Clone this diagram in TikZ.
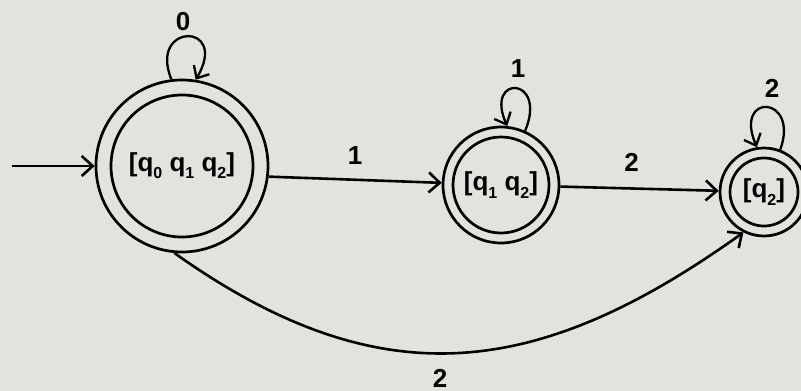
\documentclass[tikz,border=0pt]{standalone}
\usepackage{fontspec}
\setmainfont{Liberation Sans}
\usetikzlibrary{arrows.meta}
\definecolor{paper}{RGB}{226,226,222}
\newcommand{\qsub}[1]{q\raisebox{-0.28em}{\fontsize{16}{16}\selectfont #1}}
\begin{document}
\begin{tikzpicture}[x=1pt,y=-1pt,
  st/.style={circle,draw,line width=2.7pt,inner sep=0pt,font=\fontsize{26}{30}\selectfont\bfseries},
  inner/.style={line width=2.7pt},
  edge/.style={line width=2.6pt,-{Straight Barb[length=11pt,width=20pt]}},
  loopedge/.style={line width=2.3pt,-{Straight Barb[length=10pt,width=18pt]}},
  lbl/.style={font=\fontsize{26}{30}\selectfont\bfseries,inner sep=0pt}]
\fill[paper] (0,0) rectangle (801,391);
\useasboundingbox (0,0) rectangle (801,391);
% states
\node[st,minimum size=172pt] (A) at (182,166) {[\qsub{0} \qsub{1} \qsub{2}]};
\draw[inner] (A.center) circle[radius=71pt];
\node[st,minimum size=116pt] (B) at (501,185) {[\qsub{1} \qsub{2}]};
\draw[inner] (B.center) circle[radius=48pt];
\node[st,minimum size=88pt] (C) at (764,192) {[\qsub{2}]};
\draw[inner] (C.center) circle[radius=34pt];
% start arrow
\coordinate (s) at (12,166);
\draw[edge] (s) -- (A);
% transitions
\draw[edge] (A.-7) -- (B) node[lbl,pos=0.5,above=14pt] (l1) {1};
\draw[edge] (B) -- (C) node[lbl,pos=0.45,above=16pt] (l2) {2};
\draw[edge] (A.-95) .. controls (380,399) and (537,380) .. (C.-117);
\node[lbl] (l3) at (440,378) {2};
% loops
\draw[loopedge] (A.97) .. controls (148,22) and (230,22) .. (A.81);
\node[lbl] (l0) at (183,22) {0};
\draw[loopedge] (B.66) .. controls (548,76) and (484,74) .. (B.84);
\node[lbl] (l4) at (518,69) {1};
\draw[loopedge] (C.69) .. controls (800,95) and (733,92) .. (C.99);
\node[lbl] (l5) at (772,88) {2};
\end{tikzpicture}
\end{document}
